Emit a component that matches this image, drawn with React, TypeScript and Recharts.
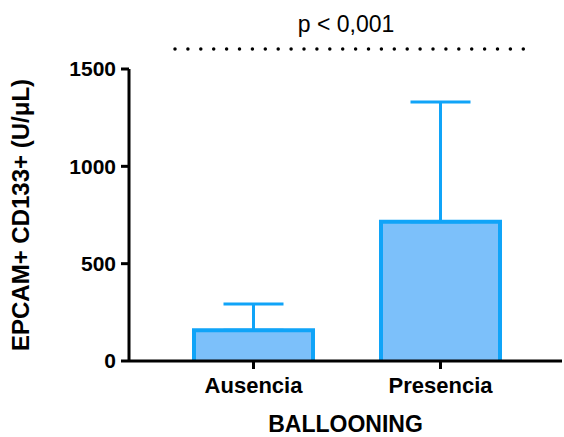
import { Bar, BarChart, ErrorBar, Label, XAxis, YAxis } from "recharts"

const groups = ["Ausencia", "Presencia"]
const means = [158, 715]
const sdUpper = [135, 615]
const yTicks = [0, 500, 1000, 1500]

const data = groups.map((name, i) => ({
  name,
  value: means[i],
  err: [0, sdUpper[i]],
}))

const FILL = "#7CC0FA"
const EDGE = "#10A4F8"
const FONT = "'Liberation Sans', Arial, sans-serif"

// bar with an open bottom so the x axis line stays on top
const OpenBar = (props: any) => {
  const { x, y, width, height } = props
  const b = y + height
  return (
    <g>
      <rect x={x} y={y} width={width} height={height} fill={FILL} />
      <path
        d={`M${x},${b} L${x},${y} L${x + width},${y} L${x + width},${b}`}
        fill="none"
        stroke={EDGE}
        strokeWidth={4}
      />
    </g>
  )
}

const YTitle = (props: any) => {
  const { viewBox } = props
  const cy = viewBox.y + viewBox.height / 2
  const cx = 20
  return (
    <text
      x={cx}
      y={cy}
      transform={`rotate(-90 ${cx} ${cy})`}
      textAnchor="middle"
      dominantBaseline="central"
      fontFamily={FONT}
      fontWeight="bold"
      fontSize={24}
      fill="#000"
    >
      EPCAM+ CD133+ (U/μL)
    </text>
  )
}

export default function App() {
  return (
    <div style={{ position: "absolute", left: 0, top: 0, width: 564, height: 437, background: "#fff" }}>
      <BarChart
        width={564}
        height={437}
        data={data}
        margin={{ top: 69, right: 2, left: 0, bottom: 0 }}
        barSize={119}
      >
        <XAxis
          dataKey="name"
          height={76}
          padding={{ left: 31, right: 28 }}
          axisLine={{ stroke: "#000", strokeWidth: 3 }}
          tickLine={{ stroke: "#000", strokeWidth: 3 }}
          tickSize={8}
          tickMargin={8}
          tick={{ fill: "#000", fontSize: 22, fontWeight: "bold", fontFamily: FONT }}
        >
          <Label
            value="BALLOONING"
            position="insideBottom"
            offset={5}
            style={{ fill: "#000", fontSize: 23, fontWeight: "bold", fontFamily: FONT }}
          />
        </XAxis>
        <YAxis
          width={129}
          domain={[0, 1500]}
          ticks={yTicks}
          interval={0}
          axisLine={{ stroke: "#000", strokeWidth: 3 }}
          tickLine={{ stroke: "#000", strokeWidth: 3 }}
          tickSize={8}
          tickMargin={5}
          tick={{ fill: "#000", fontSize: 21, fontWeight: "bold", fontFamily: FONT }}
        >
          <Label content={<YTitle />} />
        </YAxis>
        <Bar dataKey="value" shape={<OpenBar />} isAnimationActive={false}>
          <ErrorBar dataKey="err" width={30} stroke={EDGE} strokeWidth={3} direction="y" />
        </Bar>
      </BarChart>
      <svg
        width={564}
        height={60}
        style={{ position: "absolute", left: 0, top: 0, pointerEvents: "none" }}
      >
        <text x={346} y={32} textAnchor="middle" fontFamily={FONT} fontSize={23} fill="#000">
          p &lt; 0,001
        </text>
        <line
          x1={175}
          y1={49}
          x2={529}
          y2={49}
          stroke="#000"
          strokeWidth={3.5}
          strokeLinecap="round"
          strokeDasharray="0 12.9"
        />
      </svg>
    </div>
  )
}
